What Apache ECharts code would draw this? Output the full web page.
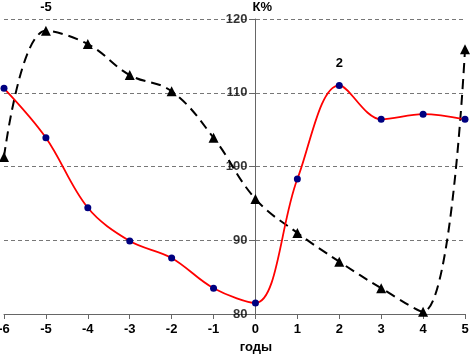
<!DOCTYPE html>
<html><head><meta charset="utf-8">
<script src="https://cdn.jsdelivr.net/npm/echarts@6/dist/echarts.min.js"></script>
<style>html,body{margin:0;padding:0;background:#fff}#c{width:471px;height:355px}</style>
</head><body><div id="c"></div>
<script>
const years = [-6,-5,-4,-3,-2,-1,0,1,2,3,4,5];
const redSeries = [110.6,103.9,94.4,89.9,87.6,83.5,81.5,98.3,111.0,106.4,107.1,106.4];
const blackSeries = [101.3,118.4,116.6,112.4,110.2,103.9,95.6,91.0,87.1,83.5,80.3,115.9];
const yTicks = [80,90,100,110,120];
const blackLabelYear = -5, redLabelYear = 2;

const W = 471, gl = 4, gr = 6, gt = 19, gb = 41;
const xMin = years[0], xMax = years[years.length-1];
const zeroLeft = gl + (W-gl-gr) * (0 - xMin) / (xMax - xMin);

const font = {fontFamily:'Liberation Sans, Arial', fontWeight:'bold', fontSize:13, color:'#000'};
function mk(vals, labelYear){
  return years.map((x,i)=>{
    const d = {value:[x, vals[i]]};
    if (x === labelYear) d.label = {show:true, position:'top', distance:12, formatter:String(labelYear), ...font};
    return d;
  });
}
const yRange = {type:'value',min:yTicks[0],max:yTicks[yTicks.length-1],interval:10};
const chart = echarts.init(document.getElementById('c'));
chart.setOption({
  animation:false,
  grid:[
    {left:gl,right:gr,top:gt,bottom:gb,containLabel:false,outerBoundsMode:'none'},
    {left:zeroLeft,right:gr,top:gt,bottom:gb,containLabel:false}
  ],
  xAxis:[
    {gridIndex:0,type:'value',min:xMin,max:xMax,interval:1,
    axisLine:{onZero:false,lineStyle:{color:'#666',width:1}},
    axisTick:{show:true,length:5,lineStyle:{color:'#666'}},
    axisLabel:{...font,margin:9,showMinLabel:true,showMaxLabel:true},
    splitLine:{show:false},
    name:'годы',nameLocation:'middle',nameGap:26,
    nameTextStyle:{...font,padding:[0,0,0,43]}},
    {gridIndex:1,type:'value',min:0,max:1,show:false}
  ],
  yAxis:[
    {gridIndex:0,...yRange,
    axisLine:{show:false},axisTick:{show:false},axisLabel:{show:false},
    splitLine:{show:true,lineStyle:{color:'#777',type:[4,3],width:1}}},
    {gridIndex:1,...yRange,position:'left',
    axisLine:{show:true,onZero:false,lineStyle:{color:'#666',width:1}},
    axisTick:{show:true,length:6,lineStyle:{color:'#666'}},
    axisLabel:{show:false},
    splitLine:{show:false},
    name:'К%',nameLocation:'end',nameGap:5,
    nameTextStyle:{...font,align:'left',padding:[0,0,0,-3]}}
  ],
  series:[
    {type:'scatter',xAxisIndex:0,yAxisIndex:0,silent:true,symbolSize:0,z:1,
     data:yTicks.map(v=>[0,v]),
     label:{show:true,position:'left',distance:8,formatter:p=>String(p.value[1]),...font}},
    {type:'line',xAxisIndex:0,yAxisIndex:0,data:mk(redSeries,redLabelYear),smooth:0.35,
     lineStyle:{color:'#ff0000',width:1.8},
     symbol:'circle',symbolSize:7,itemStyle:{color:'#000080'},z:3},
    {type:'line',xAxisIndex:0,yAxisIndex:0,data:mk(blackSeries,blackLabelYear),smooth:0.4,
     lineStyle:{color:'#000',width:2,type:[10,6]},
     symbol:'triangle',symbolSize:10,itemStyle:{color:'#000'},z:2}
  ]
});
</script></body></html>
